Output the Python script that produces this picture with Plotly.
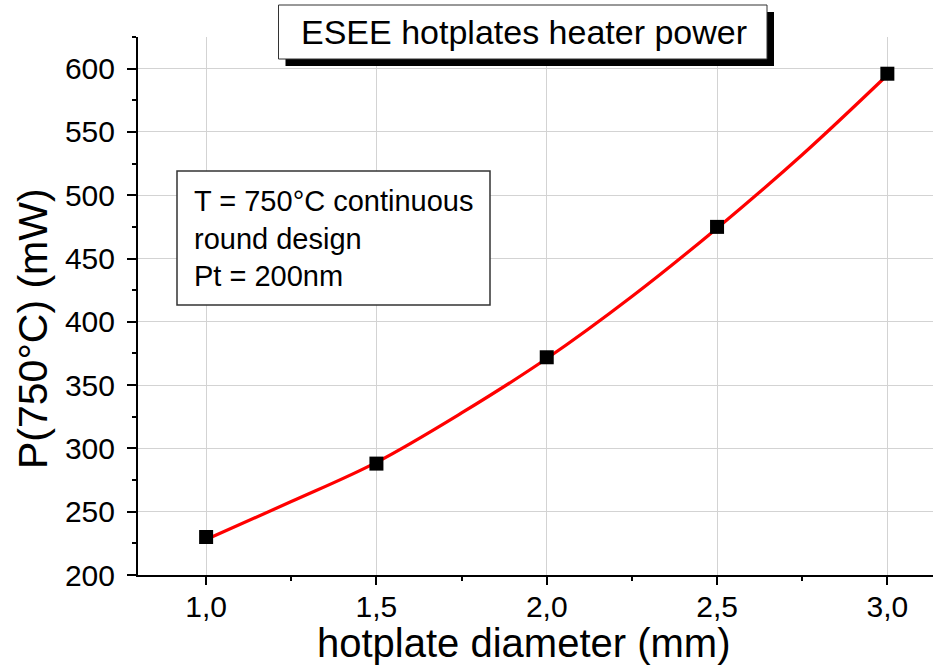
import plotly.graph_objects as go

# data
diam_mm = [1.0, 1.5, 2.0, 2.5, 3.0]
power_mw = [230, 288, 372, 475, 596]
fit_x = [1.0, 1.25, 1.5, 1.75, 2.0, 2.25, 2.5, 2.75, 3.0]
fit_y = [228, 258, 289, 328, 371, 420, 474, 532, 595]
x_ticks = [1.0, 1.5, 2.0, 2.5, 3.0]
x_ticklabels = ["1,0", "1,5", "2,0", "2,5", "3,0"]
y_ticks = [200, 250, 300, 350, 400, 450, 500, 550, 600]

title_text = "ESEE hotplates heater power"
note_text = "T = 750°C continuous<br>round design<br>Pt = 200nm"
x_title = "hotplate diameter (mm)"
y_title = "P(750°C) (mW)"

W, H = 933, 667
L, R, T, B = 138, 0, 37, 92
pw, ph = W - L - R, H - T - B

def px(xp):
    return (xp - L) / pw

def py(yp):
    return (H - B - yp) / ph

FONT = "Liberation Sans, Arial, sans-serif"

fig = go.Figure()
fig.add_trace(go.Scatter(x=fit_x, y=fit_y, mode="lines",
                         line=dict(color="#ff0000", width=3.2, shape="spline"),
                         showlegend=False, hoverinfo="skip"))
fig.add_trace(go.Scatter(x=diam_mm, y=power_mw, mode="markers",
                         marker=dict(symbol="square", size=14, color="black"),
                         showlegend=False))

shapes = [
    # title shadow
    dict(type="rect", xref="paper", yref="paper",
         x0=px(285.5), x1=px(774), y0=py(66), y1=py(12),
         fillcolor="black", line=dict(width=0), layer="above"),
    # title box
    dict(type="rect", xref="paper", yref="paper",
         x0=px(278.5), x1=px(767), y0=py(59), y1=py(5),
         fillcolor="white", line=dict(color="#333333", width=1), layer="above"),
    # note box
    dict(type="rect", xref="paper", yref="paper",
         x0=px(177), x1=px(490), y0=py(305), y1=py(171),
         fillcolor="white", line=dict(color="#333333", width=1.5), layer="above"),
]

annotations = [
    dict(text=title_text, xref="paper", yref="paper",
         x=px(524), y=py(32), xanchor="center", yanchor="middle",
         showarrow=False, font=dict(family=FONT, size=34, color="black")),
    dict(text=note_text, xref="paper", yref="paper",
         x=px(192), y=py(238), xanchor="left", yanchor="middle", align="left",
         showarrow=False, font=dict(family=FONT, size=29, color="black")),
    dict(text=x_title, xref="paper", yref="paper",
         x=px(523), y=py(643), xanchor="center", yanchor="middle",
         showarrow=False, font=dict(family=FONT, size=40, color="black")),
    dict(text=y_title, xref="paper", yref="paper", textangle=-90,
         x=px(33), y=py(329), xanchor="center", yanchor="middle",
         showarrow=False, font=dict(family=FONT, size=41, color="black")),
]

fig.update_layout(
    width=W, height=H,
    margin=dict(l=L, r=R, t=T, b=B, autoexpand=False),
    paper_bgcolor="white", plot_bgcolor="white",
    font=dict(family=FONT, color="black"),
    shapes=shapes, annotations=annotations,
    xaxis=dict(
        range=[0.8, 3.134], tickvals=x_ticks, ticktext=x_ticklabels,
        showline=True, linecolor="black", linewidth=2,
        ticks="outside", ticklen=8, tickwidth=2, tickcolor="black",
        minor=dict(dtick=0.25, ticks="outside", ticklen=4, tickwidth=2, tickcolor="black", showgrid=False),
        showgrid=True, gridcolor="#d3d3d3", gridwidth=1, zeroline=False,
        tickfont=dict(size=30, family=FONT, color="black"),
        ticklabelstandoff=-4,
        automargin=False,
    ),
    yaxis=dict(
        range=[200, 625], tickvals=y_ticks,
        showline=True, linecolor="black", linewidth=2,
        ticks="outside", ticklen=9, tickwidth=2, tickcolor="black",
        minor=dict(dtick=25, ticks="outside", ticklen=4, tickwidth=2, tickcolor="black", showgrid=False),
        showgrid=True, gridcolor="#d3d3d3", gridwidth=1, zeroline=False,
        tickfont=dict(size=30, family=FONT, color="black"),
        ticklabelstandoff=6,
        automargin=False,
    ),
)

fig.write_html("out.html")
